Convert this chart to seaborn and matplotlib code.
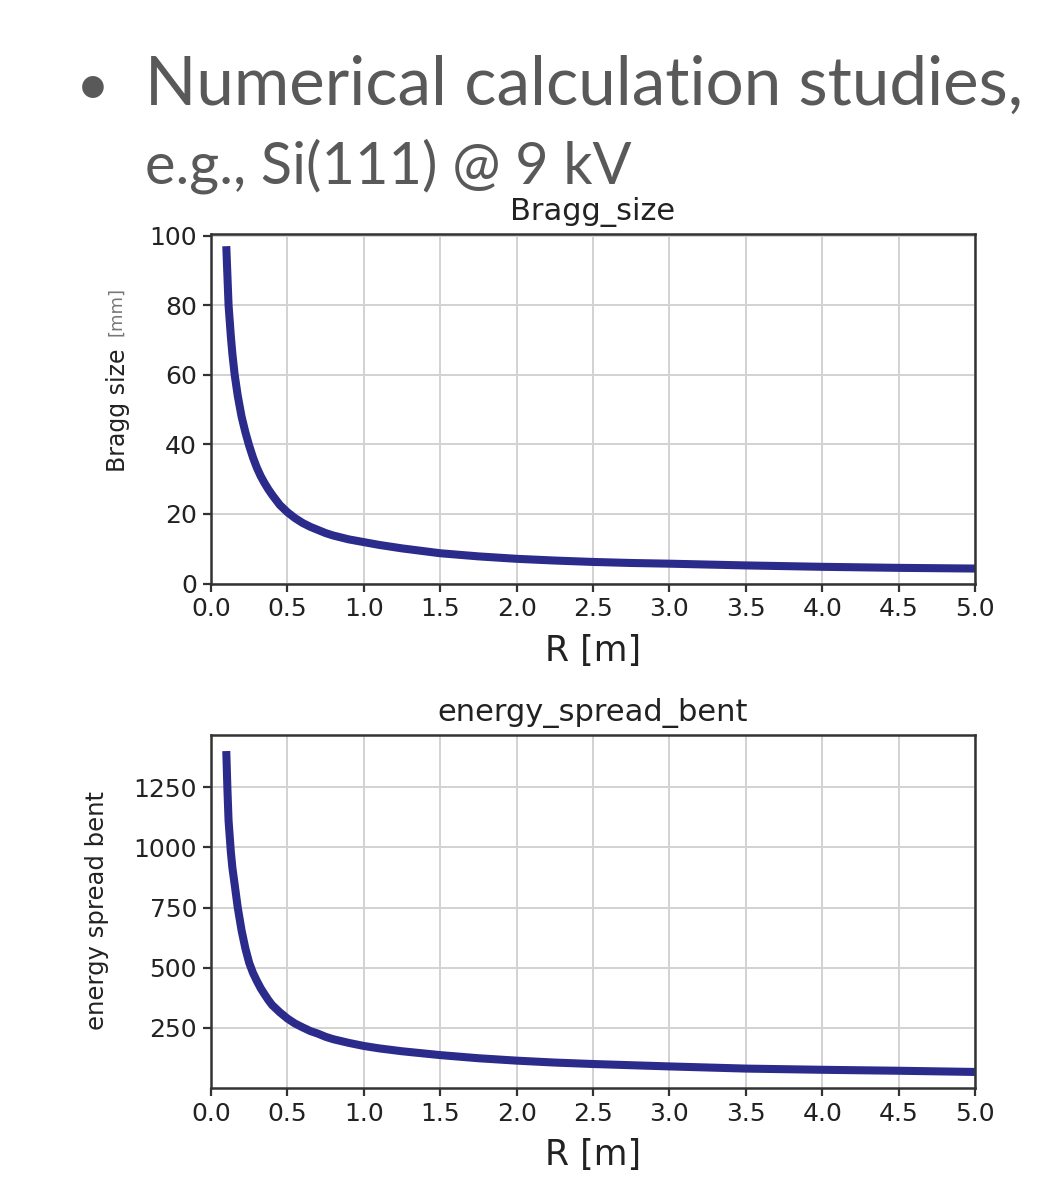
import matplotlib
matplotlib.use("Agg")
import matplotlib.pyplot as plt
import seaborn as sns
import numpy as np
import pandas as pd

# ---- data ----
R_m = [0.1, 0.107, 0.115, 0.13, 0.14, 0.155, 0.175, 0.2, 0.225, 0.25, 0.275, 0.3,
       0.325, 0.35, 0.375, 0.4, 0.45, 0.5, 0.55, 0.6, 0.65, 0.7, 0.75, 0.8, 0.9,
       1.0, 1.1, 1.25, 1.5, 1.75, 2.0, 2.25, 2.5, 2.75, 3.0, 3.5, 4.0, 4.5, 5.0]
bragg_size = [97, 89, 80, 71, 66, 60, 54, 48, 43.5, 39.6, 36.2, 33.3,
              30.9, 28.9, 27.1, 25.5, 22.6, 20.5, 18.8, 17.4, 16.3, 15.4, 14.5, 13.8, 12.7,
              11.9, 11.1, 10.1, 8.7, 7.8, 7.1, 6.6, 6.2, 5.9, 5.7, 5.2, 4.8, 4.5, 4.3]
energy_spread = [1400, 1250, 1110, 980, 915, 845, 750, 655, 580, 520, 478, 445,
                 415, 390, 366, 345, 315, 289, 268, 252, 237, 226, 213, 203, 188,
                 175, 165, 153, 137, 124, 114, 106, 100, 95, 90, 81, 76, 72, 67]
x_ticks = [0.0, 0.5, 1.0, 1.5, 2.0, 2.5, 3.0, 3.5, 4.0, 4.5, 5.0]
top_y_ticks = [0, 20, 40, 60, 80, 100]
bottom_y_ticks = [250, 500, 750, 1000, 1250]

df = pd.DataFrame({"R": R_m, "bragg": bragg_size, "spread": energy_spread})

sns.set_theme(style="whitegrid")
plt.rcParams["font.family"] = ["DejaVu Sans"]

W, H = 1062, 1177
fig = plt.figure(figsize=(W / 100, H / 100), dpi=100)
fig.patch.set_facecolor("white")

def fx(px):
    return px / W

def fy(py):
    return 1 - py / H

LINE_COLOR = "#2b2b8c"
TEXT = "#222222"
SLIDE = "#595959"

ax1 = fig.add_axes([fx(211), fy(583.5), fx(975) - fx(211), fy(234) - fy(583.5)])
ax2 = fig.add_axes([fx(211), fy(1088), fx(975) - fx(211), fy(735) - fy(1088)])

sns.lineplot(data=df, x="R", y="bragg", ax=ax1, color=LINE_COLOR, linewidth=5.8,
             solid_capstyle="butt", solid_joinstyle="round")
sns.lineplot(data=df, x="R", y="spread", ax=ax2, color=LINE_COLOR, linewidth=5.8,
             solid_capstyle="butt", solid_joinstyle="round")

ax1.set_ylim(0, 100.5)

for ax in (ax1, ax2):
    ax.set_facecolor("white")
    ax.set_xlim(0, 5)
    ax.set_xticks(x_ticks)
    ax.set_xticklabels([f"{t:.1f}" for t in x_ticks])
    ax.grid(True, color="#d2d2d2", linewidth=1.4)
    for s in ax.spines.values():
        s.set_color("#333333")
        s.set_linewidth(1.8)
    ax.tick_params(axis="both", direction="out", length=6, width=1.6,
                   color="#333333", labelsize=18, labelcolor=TEXT, pad=4,
                   bottom=True, left=True)
    ax.set_xlabel("R [m]", fontsize=25, color=TEXT, labelpad=9)
    ax.set_ylabel("")

ax1.set_yticks(top_y_ticks)
ax2.set_yticks(bottom_y_ticks)

ax1.set_title("Bragg_size", fontsize=22, color=TEXT, pad=10)
ax2.set_title("energy_spread_bent", fontsize=22, color=TEXT, pad=10)

# y labels
fig.text(fx(118), fy(410), "Bragg size", rotation=90, ha="center", va="center",
         fontsize=17, color=TEXT)
fig.text(fx(116), fy(311), "[mm]", rotation=90, ha="center", va="center",
         fontsize=13, color="#777777")
fig.text(fx(97), fy(911), "energy spread bent", rotation=90, ha="center",
         va="center", fontsize=17.5, color=TEXT)

# slide text
fig.text(fx(76), fy(105), "\u2022", fontsize=42, color=SLIDE, family=["Lato", "DejaVu Sans"],
         ha="left", va="baseline")
fig.text(fx(145), fy(105), "Numerical calculation studies,", fontsize=48.5,
         color=SLIDE, family=["Lato", "DejaVu Sans"], ha="left", va="baseline")
fig.text(fx(145), fy(184), "e.g., Si(111) @ 9 kV", fontsize=41.5,
         color=SLIDE, family=["Lato", "DejaVu Sans"], ha="left", va="baseline")

fig.savefig("out.png", dpi=100, facecolor="white")
